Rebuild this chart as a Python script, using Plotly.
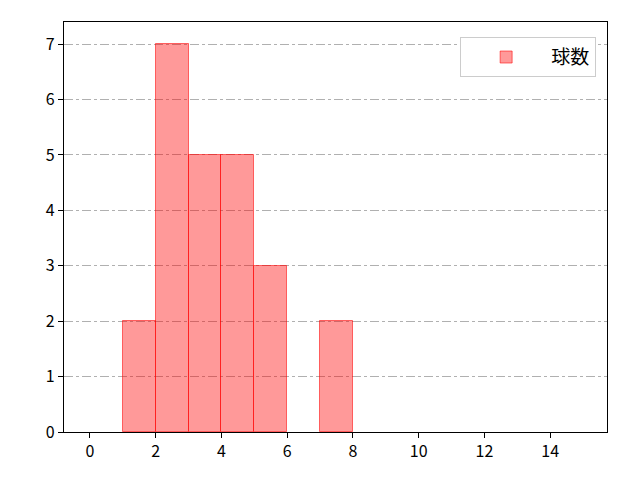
import plotly.graph_objects as go

# Histogramme du nombre de lancers
bin_left = [1, 2, 3, 4, 5, 6, 7]
counts = [2, 7, 5, 5, 3, 0, 2]
bin_width = 1
label = "球数"

x_ticks = [0, 2, 4, 6, 8, 10, 12, 14]
y_ticks = [0, 1, 2, 3, 4, 5, 6, 7]

# on ne garde que les classes non vides (sinon un trait apparaît à y=0)
centres = [b + bin_width / 2 for b, c in zip(bin_left, counts) if c > 0]
hauteurs = [c for c in counts if c > 0]

fig = go.Figure()
fig.add_trace(go.Bar(
    x=centres,
    y=hauteurs,
    width=bin_width,
    name=label,
    marker=dict(color="rgba(255,0,0,0.4)",
                line=dict(color="rgba(255,0,0,0.55)", width=1)),
    showlegend=True,
))

axis_common = dict(
    showline=True, linecolor="black", linewidth=1.2, mirror=True,
    ticks="outside", ticklen=5, tickcolor="black",
    tickfont=dict(size=16, color="black"),
    zeroline=False,
)

fig.update_xaxes(range=[-0.79, 15.73], tickvals=x_ticks, showgrid=False, **axis_common)
fig.update_yaxes(range=[0, 7.4], tickvals=y_ticks, showgrid=True,
                 gridcolor="#b0b0b0", griddash="dashdot", gridwidth=1,
                 layer="above traces", **axis_common)

fig.update_layout(
    width=640, height=480,
    margin=dict(l=56, r=41, t=14, b=56),
    plot_bgcolor="white", paper_bgcolor="white",
    font=dict(family="Noto Sans CJK JP, DejaVu Sans", size=16, color="black"),
    bargap=0,
    legend=dict(x=0.98, y=0.963, xanchor="right", yanchor="top",
                bgcolor="white", bordercolor="#cccccc", borderwidth=1,
                font=dict(size=19), itemwidth=80),
)

fig.write_html("out.html")
